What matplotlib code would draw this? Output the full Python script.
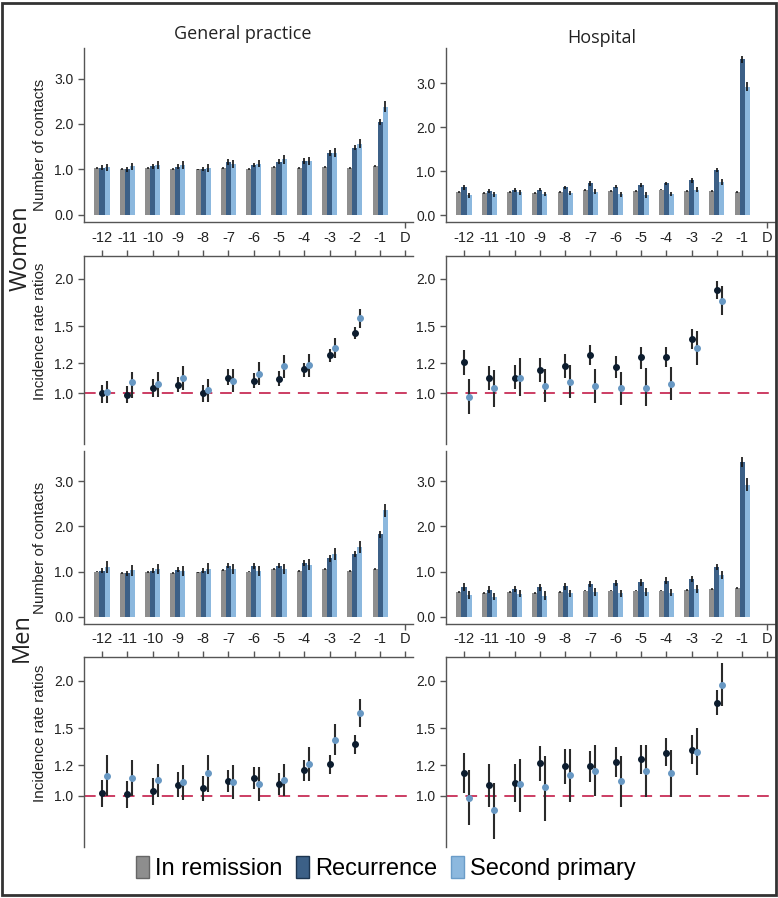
import numpy as np
import matplotlib
matplotlib.use("Agg")
import matplotlib.pyplot as plt
from matplotlib.patches import Patch, Rectangle

plt.rcParams['font.family'] = ['Liberation Sans', 'DejaVu Sans']

periods = ["-12", "-11", "-10", "-9", "-8", "-7", "-6", "-5", "-4", "-3", "-2", "-1", "D"]

# number of contacts, women, general practice
gp_w_rem = [1.03, 1.01, 1.03, 1.01, 1.00, 1.04, 1.01, 1.05, 1.03, 1.06, 1.03, 1.08]
gp_w_rec = [1.04, 1.00, 1.07, 1.06, 1.01, 1.16, 1.10, 1.17, 1.19, 1.36, 1.48, 2.05]
gp_w_sec = [1.05, 1.07, 1.10, 1.10, 1.03, 1.12, 1.13, 1.22, 1.19, 1.37, 1.57, 2.38]
gp_w_rec_err = [0.05, 0.05, 0.05, 0.05, 0.05, 0.06, 0.05, 0.06, 0.06, 0.06, 0.06, 0.07]
gp_w_sec_err = [0.08, 0.08, 0.08, 0.08, 0.08, 0.09, 0.08, 0.09, 0.09, 0.10, 0.10, 0.12]

# number of contacts, women, hospital
h_w_rem = [0.52, 0.51, 0.52, 0.51, 0.53, 0.57, 0.55, 0.55, 0.58, 0.55, 0.55, 0.53]
h_w_rec = [0.63, 0.55, 0.57, 0.58, 0.63, 0.72, 0.65, 0.69, 0.72, 0.79, 1.03, 3.54]
h_w_sec = [0.45, 0.47, 0.52, 0.48, 0.50, 0.53, 0.47, 0.46, 0.48, 0.58, 0.75, 2.92]
h_w_rec_err = [0.05, 0.04, 0.04, 0.04, 0.04, 0.05, 0.04, 0.05, 0.04, 0.05, 0.05, 0.08]
h_w_sec_err = [0.05, 0.05, 0.06, 0.05, 0.05, 0.06, 0.05, 0.06, 0.05, 0.06, 0.07, 0.10]

# number of contacts, men, general practice
gp_m_rem = [1.00, 0.96, 0.99, 0.97, 0.98, 1.03, 1.00, 1.05, 1.02, 1.06, 1.02, 1.05]
gp_m_rec = [1.02, 0.96, 1.02, 1.04, 1.02, 1.13, 1.12, 1.13, 1.19, 1.29, 1.39, 1.82]
gp_m_sec = [1.10, 1.03, 1.05, 1.01, 1.06, 1.06, 1.02, 1.06, 1.15, 1.38, 1.54, 2.35]
gp_m_rec_err = [0.06, 0.06, 0.06, 0.06, 0.06, 0.06, 0.06, 0.06, 0.07, 0.07, 0.07, 0.08]
gp_m_sec_err = [0.14, 0.12, 0.11, 0.11, 0.12, 0.11, 0.11, 0.11, 0.12, 0.13, 0.14, 0.15]

# number of contacts, men, hospital
h_m_rem = [0.55, 0.53, 0.54, 0.52, 0.54, 0.58, 0.58, 0.58, 0.58, 0.60, 0.62, 0.64]
h_m_rec = [0.66, 0.60, 0.61, 0.65, 0.67, 0.72, 0.75, 0.76, 0.80, 0.83, 1.10, 3.42]
h_m_sec = [0.49, 0.44, 0.51, 0.47, 0.52, 0.55, 0.52, 0.55, 0.53, 0.61, 0.92, 2.92]
h_m_rec_err = [0.08, 0.07, 0.06, 0.07, 0.07, 0.07, 0.07, 0.07, 0.07, 0.07, 0.07, 0.10]
h_m_sec_err = [0.09, 0.08, 0.08, 0.09, 0.08, 0.08, 0.08, 0.09, 0.08, 0.09, 0.09, 0.15]

# incidence rate ratios (-12 .. -2)
irr_gp_w_rec = [1.00, 0.99, 1.03, 1.05, 1.00, 1.10, 1.08, 1.09, 1.155, 1.26, 1.44]
irr_gp_w_rec_lo = [0.94, 0.94, 0.98, 1.01, 0.95, 1.05, 1.03, 1.045, 1.105, 1.21, 1.39]
irr_gp_w_rec_hi = [1.05, 1.045, 1.09, 1.105, 1.05, 1.155, 1.13, 1.146, 1.20, 1.31, 1.49]
irr_gp_w_sec = [1.01, 1.07, 1.06, 1.10, 1.02, 1.08, 1.125, 1.177, 1.186, 1.316, 1.577]
irr_gp_w_sec_lo = [0.94, 0.97, 0.98, 1.02, 0.95, 1.01, 1.05, 1.10, 1.105, 1.235, 1.485]
irr_gp_w_sec_hi = [1.08, 1.14, 1.14, 1.18, 1.09, 1.155, 1.205, 1.26, 1.27, 1.40, 1.67]

irr_h_w_rec = [1.21, 1.094, 1.10, 1.149, 1.181, 1.26, 1.17, 1.245, 1.247, 1.393, 1.87]
irr_h_w_rec_lo = [1.12, 1.02, 1.026, 1.068, 1.10, 1.186, 1.094, 1.16, 1.17, 1.311, 1.77]
irr_h_w_rec_hi = [1.30, 1.18, 1.186, 1.235, 1.268, 1.338, 1.25, 1.32, 1.32, 1.479, 1.97]
irr_h_w_sec = [0.98, 1.03, 1.10, 1.047, 1.073, 1.045, 1.03, 1.035, 1.06, 1.316, 1.754]
irr_h_w_sec_lo = [0.88, 0.92, 0.984, 0.947, 0.97, 0.945, 0.932, 0.923, 0.96, 1.186, 1.61]
irr_h_w_sec_hi = [1.088, 1.15, 1.24, 1.158, 1.184, 1.155, 1.14, 1.162, 1.17, 1.458, 1.917]

irr_gp_m_rec = [1.016, 1.012, 1.027, 1.069, 1.046, 1.093, 1.111, 1.073, 1.164, 1.207, 1.363]
irr_gp_m_rec_lo = [0.935, 0.93, 0.947, 0.994, 0.966, 1.02, 1.039, 1.006, 1.091, 1.14, 1.288]
irr_gp_m_rec_hi = [1.10, 1.093, 1.11, 1.15, 1.125, 1.169, 1.186, 1.143, 1.237, 1.28, 1.44]
irr_gp_m_sec = [1.125, 1.11, 1.098, 1.084, 1.143, 1.084, 1.071, 1.098, 1.21, 1.40, 1.649]
irr_gp_m_sec_lo = [1.0, 1.0, 0.99, 0.974, 1.022, 0.98, 0.966, 1.0, 1.095, 1.28, 1.515]
irr_gp_m_sec_hi = [1.275, 1.237, 1.21, 1.205, 1.275, 1.20, 1.188, 1.21, 1.34, 1.536, 1.788]

irr_h_m_rec = [1.148, 1.065, 1.078, 1.217, 1.194, 1.194, 1.228, 1.243, 1.295, 1.315, 1.75]
irr_h_m_rec_lo = [1.016, 0.935, 0.964, 1.095, 1.074, 1.084, 1.122, 1.138, 1.193, 1.21, 1.623]
irr_h_m_rec_hi = [1.293, 1.21, 1.21, 1.352, 1.325, 1.307, 1.342, 1.36, 1.417, 1.437, 1.889]
irr_h_m_sec = [0.986, 0.915, 1.07, 1.055, 1.13, 1.163, 1.091, 1.159, 1.143, 1.301, 1.952]
irr_h_m_sec_lo = [0.837, 0.77, 0.905, 0.86, 0.964, 1.0, 0.935, 0.994, 0.994, 1.129, 1.718]
irr_h_m_sec_hi = [1.17, 1.08, 1.245, 1.27, 1.325, 1.36, 1.273, 1.36, 1.32, 1.50, 2.22]

c_rem = "#8e8e8e"
c_rec = "#3c6087"
c_sec = "#8cb8de"
c_rec_dot = "#0c1c2e"
c_sec_dot = "#6898c3"
c_text = "#222222"


def style_axis(ax):
    for s in ax.spines.values():
        s.set_color("#555555")
        s.set_linewidth(1.0)
    ax.tick_params(colors="#555555", labelcolor=c_text, labelsize=10, width=1.0, length=4)


def draw_bars(ax, rem, rec, sec, rec_err, sec_err, ylim, ylabel=None):
    x = np.arange(len(rem))
    w = 0.2
    ax.bar(x - w, rem, w, color=c_rem, yerr=[0.02] * len(rem), error_kw=dict(ecolor="#111111", elinewidth=1.1, capsize=0))
    ax.bar(x, rec, w, color=c_rec, yerr=rec_err, error_kw=dict(ecolor="#111111", elinewidth=1.2, capsize=0))
    ax.bar(x + w, sec, w, color=c_sec, yerr=sec_err, error_kw=dict(ecolor="#111111", elinewidth=1.2, capsize=0))
    ax.set_xlim(-0.71, 12.3)
    ax.set_ylim(*ylim)
    ax.set_yticks([0, 1, 2, 3])
    ax.set_yticklabels(["0.0", "1.0", "2.0", "3.0"])
    ax.set_xticks([12])
    ax.set_xticklabels([])
    ax.spines["top"].set_visible(False)
    ax.spines["right"].set_visible(False)
    style_axis(ax)
    if ylabel:
        ax.set_ylabel(ylabel, fontsize=11, color=c_text)
        ax.yaxis.set_label_coords(-0.112, 0.44)


def draw_irr(ax, rec, rec_lo, rec_hi, sec, sec_lo, sec_hi, ylabel=None):
    x = np.arange(len(rec))
    ax.axhline(1.0, color="#cc3d63", lw=1.4, ls=(0, (6, 4)), zorder=1)
    ax.vlines(x, rec_lo, rec_hi, color="#2a2a2a", lw=1.5, zorder=2)
    ax.vlines(x + 0.2, sec_lo, sec_hi, color="#2a2a2a", lw=1.5, zorder=2)
    ax.plot(x, rec, "o", color=c_rec_dot, ms=4, zorder=3)
    ax.plot(x + 0.2, sec, "o", color=c_sec_dot, ms=4, zorder=3)
    ax.set_yscale("log")
    ax.set_ylim(0.735, 2.30)
    ax.set_yticks([1.0, 1.2, 1.5, 2.0])
    ax.set_yticklabels(["1.0", "1.2", "1.5", "2.0"])
    ax.yaxis.set_minor_locator(matplotlib.ticker.NullLocator())
    ax.set_xlim(-0.71, 12.3)
    ax.set_xticks(range(len(periods)))
    ax.set_xticklabels(periods)
    ax.xaxis.tick_top()
    ax.spines["bottom"].set_visible(False)
    ax.spines["right"].set_visible(False)
    style_axis(ax)
    ax.tick_params(axis="x", labelsize=10.5, pad=4)
    if ylabel:
        ax.set_ylabel(ylabel, fontsize=11, color=c_text)
        ax.yaxis.set_label_coords(-0.112, 0.6)


fig = plt.figure(figsize=(7.78, 8.98), dpi=100)

lx, rx, aw = 0.108, 0.5733, 0.4229
ax1 = fig.add_axes([lx, 0.7531, aw, 0.1934])
ax2 = fig.add_axes([rx, 0.7531, aw, 0.1934])
ax3 = fig.add_axes([lx, 0.5056, aw, 0.2094])
ax4 = fig.add_axes([rx, 0.5056, aw, 0.2094])
ax5 = fig.add_axes([lx, 0.3051, aw, 0.1930])
ax6 = fig.add_axes([rx, 0.3051, aw, 0.1930])
ax7 = fig.add_axes([lx, 0.0571, aw, 0.2109])
ax8 = fig.add_axes([rx, 0.0571, aw, 0.2109])

draw_bars(ax1, gp_w_rem, gp_w_rec, gp_w_sec, gp_w_rec_err, gp_w_sec_err, (-0.15, 3.67), "Number of contacts")
draw_bars(ax2, h_w_rem, h_w_rec, h_w_sec, h_w_rec_err, h_w_sec_err, (-0.15, 3.80))
draw_irr(ax3, irr_gp_w_rec, irr_gp_w_rec_lo, irr_gp_w_rec_hi, irr_gp_w_sec, irr_gp_w_sec_lo, irr_gp_w_sec_hi, "Incidence rate ratios")
draw_irr(ax4, irr_h_w_rec, irr_h_w_rec_lo, irr_h_w_rec_hi, irr_h_w_sec, irr_h_w_sec_lo, irr_h_w_sec_hi)
draw_bars(ax5, gp_m_rem, gp_m_rec, gp_m_sec, gp_m_rec_err, gp_m_sec_err, (-0.16, 3.67), "Number of contacts")
draw_bars(ax6, h_m_rem, h_m_rec, h_m_sec, h_m_rec_err, h_m_sec_err, (-0.16, 3.67))
draw_irr(ax7, irr_gp_m_rec, irr_gp_m_rec_lo, irr_gp_m_rec_hi, irr_gp_m_sec, irr_gp_m_sec_lo, irr_gp_m_sec_hi, "Incidence rate ratios")
draw_irr(ax8, irr_h_m_rec, irr_h_m_rec_lo, irr_h_m_rec_hi, irr_h_m_sec, irr_h_m_sec_lo, irr_h_m_sec_hi)

fig.text(243 / 778, 1 - 34 / 898, "General practice", ha="center", va="center", fontsize=13, family="Open Sans", color=c_text)
fig.text(602 / 778, 1 - 38 / 898, "Hospital", ha="center", va="center", fontsize=13, family="Open Sans", color=c_text)
fig.text(21 / 778, 1 - 248 / 898, "Women", ha="center", va="center", rotation=90, fontsize=17, family="Open Sans", color=c_text)
fig.text(22 / 778, 1 - 638 / 898, "Men", ha="center", va="center", rotation=90, fontsize=17, family="Open Sans", color=c_text)

handles = [Patch(facecolor=c_rem, edgecolor="#666666"),
           Patch(facecolor=c_rec, edgecolor="#1d3550"),
           Patch(facecolor=c_sec, edgecolor="#6a9cc8")]
fig.legend(handles, ["In remission", "Recurrence", "Second primary"], loc="center",
           bbox_to_anchor=(0.496, 1 - 868 / 898), ncol=3, frameon=False, fontsize=17,
           handlelength=0.55, handleheight=1.1, handletextpad=0.25, columnspacing=0.6)

fig.add_artist(Rectangle((0.003, 0.003), 0.994, 0.994, transform=fig.transFigure,
                         fill=False, edgecolor="#333333", lw=2))

fig.savefig("out.png", dpi=100)
